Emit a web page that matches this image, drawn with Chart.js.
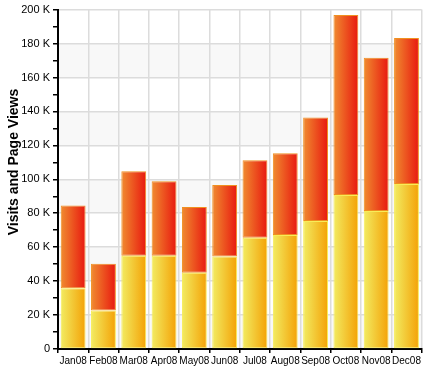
<!DOCTYPE html>
<html>
<head>
<meta charset="utf-8">
<script src="https://cdn.jsdelivr.net/npm/chart.js@4/dist/chart.umd.min.js"></script>
<style>
  body { margin: 0; background: #fff; }
  #wrap { width: 423px; height: 368px; }
</style>
</head>
<body>
<div id="wrap"><canvas id="visitsChart" width="423" height="368"></canvas></div>
<script>
// дані
const months = ['Jan08', 'Feb08', 'Mar08', 'Apr08', 'May08', 'Jun08', 'Jul08', 'Aug08', 'Sep08', 'Oct08', 'Nov08', 'Dec08'];
const visits = [35800, 22700, 55000, 55000, 45000, 54500, 65500, 67200, 75400, 90700, 81300, 97200];
const pageViews = [48700, 27600, 49800, 43900, 38700, 42100, 45700, 48100, 61000, 106100, 90300, 86100];
const yTicks = [0, 20000, 40000, 60000, 80000, 100000, 120000, 140000, 160000, 180000, 200000];
const yTitle = 'Visits and Page Views';

// градієнт зліва направо для кожного стовпчика
function barGradient(ctx, from, to) {
  const chart = ctx.chart;
  if (!chart.chartArea) return to;
  const x = chart.scales.x.getPixelForValue(ctx.dataIndex);
  const half = 12.5;
  const g = chart.ctx.createLinearGradient(x - half, 0, x + half, 0);
  g.addColorStop(0, from);
  g.addColorStop(1, to);
  return g;
}

// смуги фону через одну
const bandsPlugin = {
  id: 'bands',
  beforeDraw(chart) {
    const { ctx, chartArea, scales } = chart;
    ctx.save();
    for (let i = 0; i < yTicks.length - 1; i++) {
      if (i % 2 !== 0) continue;
      const y1 = scales.y.getPixelForValue(yTicks[i]);
      const y2 = scales.y.getPixelForValue(yTicks[i + 1]);
      ctx.fillStyle = '#f8f8f8';
      ctx.fillRect(chartArea.left, y2, chartArea.right - chartArea.left, y1 - y2);
    }
    ctx.restore();
  }
};

// підпис осі Y (трохи вище центру, як в оригіналі)
const yTitlePlugin = {
  id: 'yTitle',
  afterDraw(chart) {
    const { ctx } = chart;
    ctx.save();
    ctx.translate(14, 162);
    ctx.rotate(-Math.PI / 2);
    ctx.font = 'bold 14px "Liberation Sans"';
    ctx.fillStyle = '#000';
    ctx.textAlign = 'center';
    ctx.textBaseline = 'middle';
    ctx.fillText(yTitle, 0, 0);
    ctx.restore();
  }
};

const ctx = document.getElementById('visitsChart').getContext('2d');

new Chart(ctx, {
  type: 'bar',
  data: {
    labels: months,
    datasets: [{
      label: 'Visits',
      data: visits,
      backgroundColor: (c) => barGradient(c, '#f2ec62', '#f4a106'),
      borderColor: '#f8ec58',
      borderWidth: 1,
      borderSkipped: false
    }, {
      label: 'Page Views',
      data: pageViews,
      backgroundColor: (c) => barGradient(c, '#f08c30', '#e8180f'),
      borderColor: '#f09020',
      borderWidth: 1,
      borderSkipped: false
    }]
  },
  options: {
    responsive: false,
    animation: false,
    layout: { padding: { top: 8, right: 1, left: 0, bottom: 0 } },
    plugins: {
      legend: { display: false },
      tooltip: { enabled: false }
    },
    datasets: {
      bar: { categoryPercentage: 1, barPercentage: 0.82 }
    },
    scales: {
      x: {
        stacked: true,
        afterFit: (scale) => { scale.height = 19; },
        border: { color: '#000', width: 2 },
        grid: {
          offset: true,
          color: '#dcdcdc',
          lineWidth: 1.5,
          tickColor: '#000',
          tickLength: 4
        },
        ticks: {
          color: '#000',
          padding: 2,
          maxRotation: 0,
          autoSkip: false,
          font: { family: 'Liberation Sans', size: 10 }
        }
      },
      y: {
        stacked: true,
        min: 0,
        max: 200000,
        afterFit: (scale) => { scale.width = 58; },
        border: { color: '#000', width: 2 },
        grid: {
          color: (c) => (c.tick && c.tick.value % 20000 === 0) ? '#dcdcdc' : 'rgba(0,0,0,0)',
          lineWidth: 1.5,
          tickColor: '#000',
          tickLength: 5
        },
        ticks: {
          stepSize: 10000,
          autoSkip: false,
          color: '#000',
          padding: 3,
          font: { family: 'Liberation Sans', size: 11 },
          callback: (v) => {
            if (v % 20000 !== 0) return '';
            return v === 0 ? '0' : (v / 1000) + ' K';
          }
        }
      }
    }
  },
  plugins: [bandsPlugin, yTitlePlugin]
});
</script>
</body>
</html>
